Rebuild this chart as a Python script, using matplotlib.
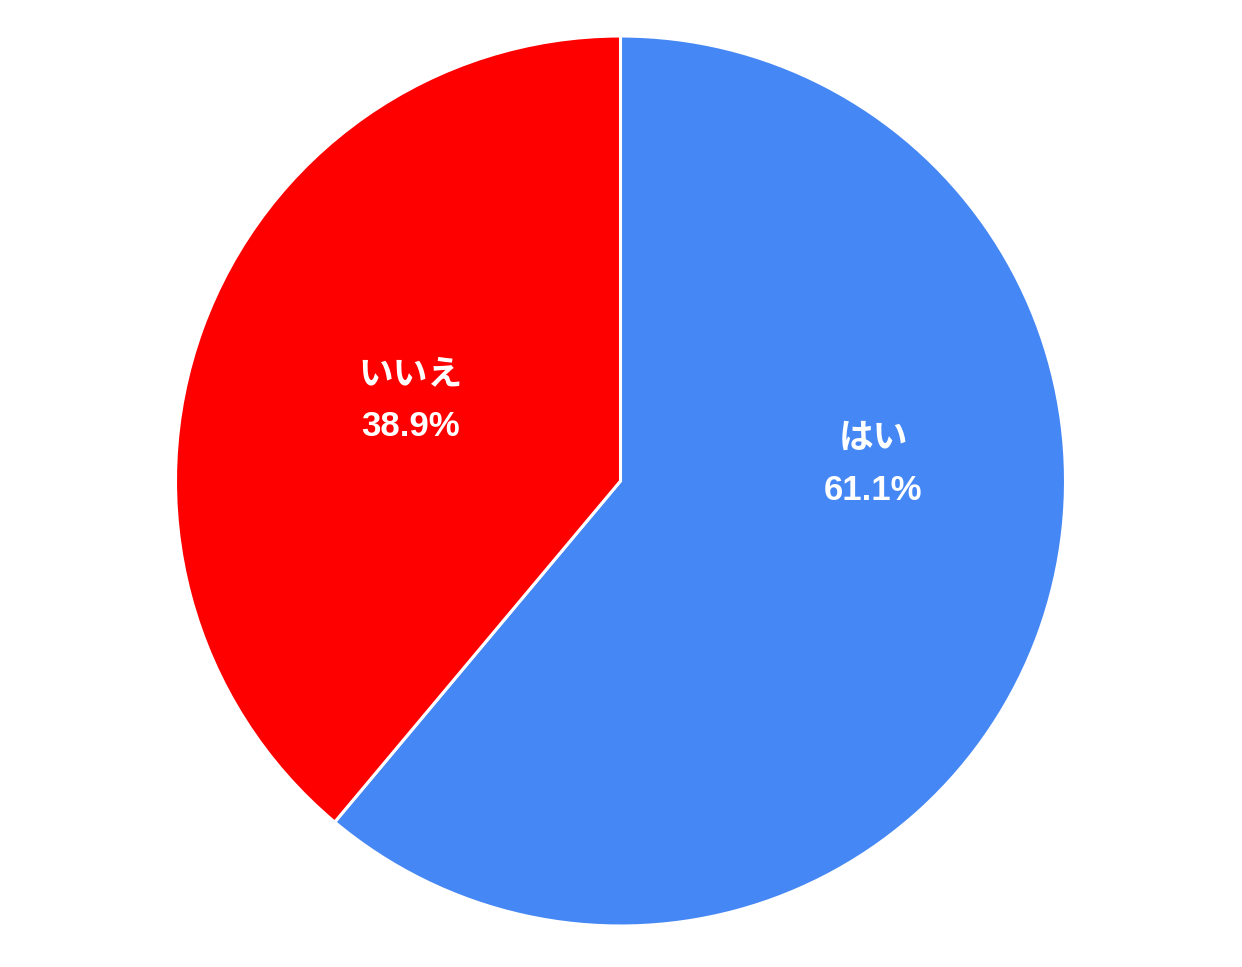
import matplotlib.pyplot as plt

# data
labels = ['はい', 'いいえ']
values = [61.1, 38.9]
colors = ['#4587F4', '#FF0000']

plt.rcParams['font.family'] = ['Liberation Sans', 'Noto Sans CJK JP', 'DejaVu Sans']

W, H = 1242, 967
fig = plt.figure(figsize=(W / 100, H / 100), dpi=100)
ax = fig.add_axes([0, 0, 1, 1])

cx, cy, r = 620.5, H - 481, 445
ax.pie(values, colors=colors, startangle=90, counterclock=False,
       center=(cx, cy), radius=r, frame=True,
       wedgeprops=dict(edgecolor='white', linewidth=2.2))
ax.set_xlim(0, W)
ax.set_ylim(0, H)
ax.axis('off')

# label positions (pixel coords, from top)
label_pos = [(873, 438, 490), (411, 375, 426)]
for lab, val, (x, y1, y2) in zip(labels, values, label_pos):
    ax.text(x, H - y1, lab, ha='center', va='center', color='white',
            fontsize=25, fontweight='bold')
    ax.text(x, H - y2, f'{val:.1f}%', ha='center', va='center', color='white',
            fontsize=25, fontweight='bold')

fig.savefig('out.png', dpi=100, facecolor='white')
